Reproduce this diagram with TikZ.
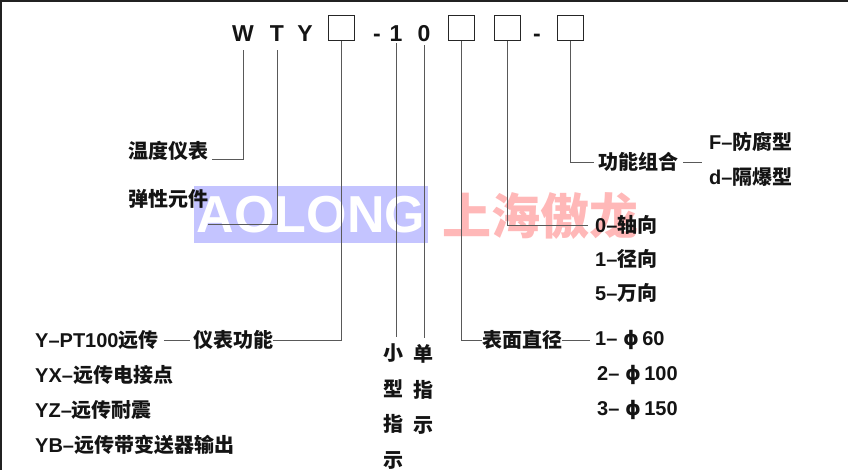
\documentclass[tikz,border=0pt]{standalone}
\usepackage{fontspec}
\setmainfont{Liberation Sans}
\newfontfamily\cjk{Noto Sans CJK SC}
\newfontfamily\dv{DejaVu Sans}
\usetikzlibrary{positioning}
\tikzset{>=stealth}
\tikzset{
  lbl/.style={inner sep=0pt,anchor=west,text=black!92,
    font=\bfseries\fontsize{20}{20}\selectfont},
  vcol/.style={inner sep=0pt,align=center,text=black!92,
    font=\cjk\bfseries\fontsize{20}{35.7}\selectfont},
  code/.style={inner sep=0pt,anchor=base,text=black!92,
    font=\bfseries\fontsize{23}{23}\selectfont},
  slot/.style={draw=black!85,line width=1pt,minimum width=26pt,minimum height=25pt,inner sep=0pt},
  lead/.style={draw=black!65,line width=0.8pt},
}
\newcommand{\dia}{{\dv ϕ}}

\begin{document}
\begin{tikzpicture}[x=1pt,y=-1pt]
\useasboundingbox (0,0) rectangle (848,470);
\fill[black!87] (0,0) rectangle (848,2);
\fill[black!87] (0,0) rectangle (2,470);
% watermark
\fill[blue!23] (194,186) rectangle (428,243);
\node[inner sep=0pt,text=white,font=\bfseries\fontsize{52}{52}\selectfont] (wmen) at (311,215) {AOLONG};
\node[inner sep=0pt,text=red!28,font=\cjk\bfseries\fontsize{49}{49}\selectfont] (wmzh) at (540,216) {上海傲龙};
% model code
\node[code] (w) at (243,42) {W};
\node[code] (t) at (277,42) {T};
\node[code] (y) at (305,42) {Y};
\node[slot] (s1) at (341,28.5) {};
\node[code] (d1) at (377,42) {-};
\node[code] (one) at (396,42) {1};
\node[code] (zero) at (424,42) {0};
\node[slot] (s2) at (461,28.5) {};
\node[slot] (s3) at (507.5,28.5) {};
\node[code] (d2) at (537,42) {-};
\node[slot] (s4) at (570,28.5) {};
% left labels
\node[lbl] (wdyb) at (128,151) {\cjk 温度仪表};
\node[lbl] (txyj) at (128,199) {\cjk 弹性元件};
\node[lbl] (ypt) at (35,340) {Y–PT100{\cjk 远传}};
\node[lbl] (ybgn) at (193,340) {\cjk 仪表功能};
\node[lbl] (yx) at (35,375) {YX–{\cjk 远传电接点}};
\node[lbl] (yz) at (35,410) {YZ–{\cjk 远传耐震}};
\node[lbl] (yb) at (35,445) {YB–{\cjk 远传带变送器输出}};
% middle columns
\node[vcol] (xxzs) at (393,406.5) {小\\型\\指\\示};
\node[vcol] (dzs) at (423,389.5) {单\\指\\示};
% right labels
\node[lbl] (bmzj) at (482,340) {\cjk 表面直径};
\node[lbl] (p60) at (595,340) {1– \dia\,60};
\node[lbl] (p100) at (597,375) {2– \dia\,100};
\node[lbl] (p150) at (597,410) {3– \dia\,150};
\node[lbl] (zx) at (595,225) {0–{\cjk 轴向}};
\node[lbl] (jx) at (595,259) {1–{\cjk 径向}};
\node[lbl] (wx) at (595,293) {5–{\cjk 万向}};
\node[lbl] (gnzh) at (598,162) {\cjk 功能组合};
\node[lbl] (ffx) at (709,142) {F–{\cjk 防腐型}};
\node[lbl] (dbx) at (709,177) {d–{\cjk 隔爆型}};
% leaders
\coordinate (tend) at ([yshift=-25pt]txyj.east);
\draw[lead,shorten <=8pt] (w.south) |- ([xshift=4pt,yshift=-8pt]wdyb.east);
\draw[lead,shorten <=8pt] (t.south) |- (tend);
\draw[lead] (s1.south) |- (ybgn.east);
\draw[lead,shorten <=5pt,shorten >=3pt] (ypt.east) -- (ybgn.west);
\draw[lead,shorten <=1pt,shorten >=6pt] (one.south) -- (one.south |- xxzs.north);
\draw[lead,shorten <=3pt,shorten >=6pt] (zero.south) -- (zero.south |- dzs.north);
\draw[lead] (s2.south) |- (bmzj.west);
\draw[lead,shorten >=5pt] (bmzj.east) -- (p60.west);
\draw[lead] (s3.south) |- ([xshift=-7pt]zx.west);
\draw[lead] (s4.south) |- ([xshift=-4pt]gnzh.west);
\draw[lead,shorten <=5pt,shorten >=7pt] (gnzh.east) -- (gnzh.east -| ffx.west);
\end{tikzpicture}
\end{document}
